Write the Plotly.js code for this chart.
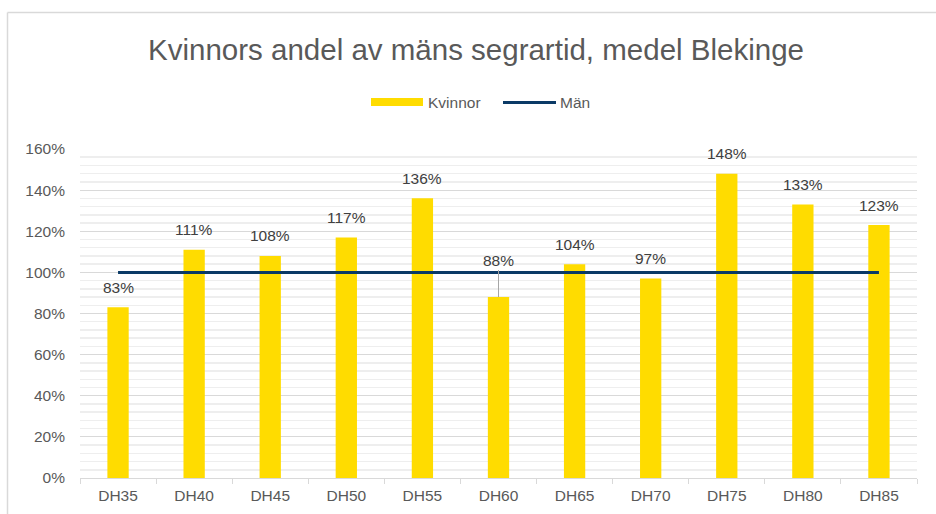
<!DOCTYPE html>
<html>
<head>
<meta charset="utf-8">
<script src="https://cdn.plot.ly/plotly-3.0.1.min.js"></script>
<style>
  html, body { margin: 0; padding: 0; background: #ffffff; }
  #chart { width: 936px; height: 514px; }
</style>
</head>
<body>
<div id="chart"></div>
<script>
const categories = ['DH35','DH40','DH45','DH50','DH55','DH60','DH65','DH70','DH75','DH80','DH85'];
const kvinnor = [0.83, 1.11, 1.08, 1.17, 1.36, 0.88, 1.04, 0.97, 1.48, 1.33, 1.23];
const man = [1, 1, 1, 1, 1, 1, 1, 1, 1, 1, 1];
const labels = ['83%','111%','108%','117%','136%','88%','104%','97%','148%','133%','123%'];
const titleText = 'Kvinnors andel av mäns segrartid, medel Blekinge';
const seriesNames = ['Kvinnor', 'Män'];

const FONT = 'Liberation Sans, Arial, sans-serif';
const YELLOW = '#FFDC00';
const NAVY = '#0b3a66';
const FS = 15.5;

const traces = [
  { type: 'bar', x: categories, y: kvinnor, name: seriesNames[0],
    marker: { color: YELLOW }, showlegend: false, hoverinfo: 'skip' },
  { type: 'scatter', mode: 'lines', x: categories, y: man, name: seriesNames[1],
    line: { color: NAVY, width: 3 }, showlegend: false, hoverinfo: 'skip' }
];

// data labels
const annotations = categories.map((c, i) => {
  if (c === 'DH60') {
    return { x: c, y: kvinnor[i], xref: 'x', yref: 'y', text: labels[i],
      showarrow: true, arrowhead: 0, arrowcolor: '#a6a6a6', arrowwidth: 1,
      ax: 0, ay: -37, standoff: 0,
      font: { family: FONT, size: FS, color: '#404040' } };
  }
  return { x: c, y: kvinnor[i], xref: 'x', yref: 'y', text: labels[i],
    showarrow: false, yanchor: 'middle', yshift: 20,
    font: { family: FONT, size: FS, color: '#404040' } };
});

const px = v => (v - 80) / 837;
const py = v => 1 + (149 - v) / 329;

// custom legend texts
annotations.push({ xref: 'paper', yref: 'paper', x: px(426), y: py(102),
  text: seriesNames[0], showarrow: false, xanchor: 'left', yanchor: 'middle',
  font: { family: FONT, size: FS, color: '#595959' } });
annotations.push({ xref: 'paper', yref: 'paper', x: px(558), y: py(102),
  text: seriesNames[1], showarrow: false, xanchor: 'left', yanchor: 'middle',
  font: { family: FONT, size: FS, color: '#595959' } });

const shapes = [
  // chart frame
  { type: 'line', xref: 'paper', yref: 'paper', x0: px(7.5), x1: px(7.5), y0: py(12.5), y1: py(520),
    line: { color: '#d9d9d9', width: 1.5 } },
  { type: 'line', xref: 'paper', yref: 'paper', x0: px(7.5), x1: px(945), y0: py(12.5), y1: py(12.5),
    line: { color: '#d9d9d9', width: 1.5 } },
  // legend swatches
  { type: 'rect', xref: 'paper', yref: 'paper', x0: px(371), x1: px(423), y0: py(106), y1: py(98),
    fillcolor: YELLOW, line: { width: 0 } },
  { type: 'line', xref: 'paper', yref: 'paper', x0: px(503), x1: px(556), y0: py(102.5), y1: py(102.5),
    line: { color: NAVY, width: 3 } }
];

const layout = {
  width: 936, height: 514,
  margin: { l: 80, r: 19, t: 149, b: 36 },
  paper_bgcolor: '#ffffff', plot_bgcolor: '#ffffff',
  font: { family: FONT, color: '#595959', size: FS },
  title: { text: titleText, x: px(476), xref: 'paper', xanchor: 'center',
    y: 1 - 50 / 514, yanchor: 'middle', yref: 'container',
    font: { family: FONT, size: 29.5, color: '#595959' } },
  bargap: 0.72,
  showlegend: false,
  xaxis: {
    type: 'category', showgrid: false, zeroline: false,
    showline: true, linecolor: '#d9d9d9', linewidth: 1,
    ticks: 'outside', ticklen: 5, tickcolor: '#d9d9d9', tickson: 'boundaries',
    ticklabelstandoff: 3,
    tickfont: { family: FONT, size: FS, color: '#595959' },
    range: [-0.5, 10.5]
  },
  yaxis: {
    range: [0, 1.6], dtick: 0.2, tickformat: '.0%',
    showgrid: true, gridcolor: '#d9d9d9', gridwidth: 1,
    zeroline: false, showline: false, ticks: '',
    ticklabelstandoff: 14,
    tickfont: { family: FONT, size: FS, color: '#595959' },
    minor: { dtick: 0.04, showgrid: true, gridcolor: '#eeeeee', gridwidth: 1.5 }
  },
  annotations: annotations,
  shapes: shapes
};

Plotly.newPlot('chart', traces, layout, { staticPlot: true, displayModeBar: false });
</script>
</body>
</html>
